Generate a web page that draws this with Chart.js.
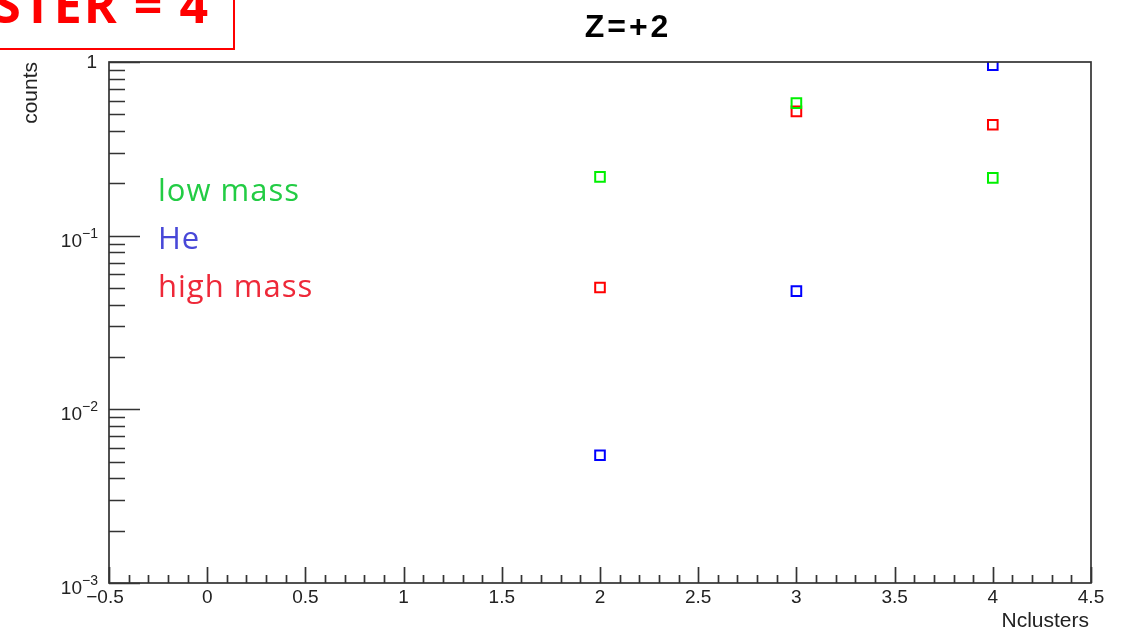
<!DOCTYPE html>
<html>
<head>
<meta charset="utf-8">
<script src="https://cdn.jsdelivr.net/npm/chart.js@4/dist/chart.umd.min.js"></script>
<style>
  html, body { margin: 0; padding: 0; background: #fff; }
  #wrap { width: 1127px; height: 634px; position: relative; }
</style>
</head>
<body>
<div id="wrap"><canvas id="c"></canvas></div>
<script>
// Cluster multiplicity for Z = +2 candidates
const nClusters = [2, 3, 4];
const lowMass  = [0.218, 0.58, 0.215];
const helium   = [0.00544, 0.0479, 0.96];
const highMass = [0.0503, 0.52, 0.435];

const seriesNames   = ['low mass', 'He', 'high mass'];
const markerColors  = ['#00f000', '#0000ff', '#ff0000'];
const labelColors   = ['#22cc44', '#4848d8', '#ee2838'];

const xMajorTicks  = [-0.5, 0, 0.5, 1, 1.5, 2, 2.5, 3, 3.5, 4, 4.5];
const xTickLabels  = ['\u22120.5', '0', '0.5', '1', '1.5', '2', '2.5', '3', '3.5', '4', '4.5'];
const yDecades     = [0.001, 0.01, 0.1, 1];
const yExponents   = ['\u22123', '\u22122', '\u22121', null];

const titleText  = 'Z=+2';
const boxText    = 'NCLUSTER = 4';
const xAxisTitle = 'Nclusters';
const yAxisTitle = 'counts';

function points(vals) {
  return nClusters.map((n, i) => ({ x: n, y: vals[i] }));
}

const frame = {
  id: 'rootFrame',
  beforeDraw(chart) {
    const ctx = chart.ctx;
    ctx.save();
    ctx.fillStyle = '#fff';
    ctx.fillRect(0, 0, chart.width, chart.height);
    ctx.restore();
  },
  afterDatasetsDraw(chart) {
    const { ctx, chartArea: a, scales: { x, y } } = chart;
    ctx.save();
    ctx.strokeStyle = '#333';
    ctx.lineWidth = 1.7;
    ctx.strokeRect(a.left, a.top, a.right - a.left, a.bottom - a.top);

    // x ticks: majors every 0.5, minors every 0.1
    ctx.beginPath();
    const x0 = xMajorTicks[0], x1 = xMajorTicks[xMajorTicks.length - 1];
    for (let k = 0; k <= Math.round((x1 - x0) * 10); k++) {
      const v = x0 + k / 10;
      const px = Math.round(x.getPixelForValue(v)) + 0.5;
      const len = (k % 5 === 0) ? 16 : 8;
      ctx.moveTo(px, a.bottom);
      ctx.lineTo(px, a.bottom - len);
    }
    // y ticks: decades long, 2..9 short
    for (let d = 0; d < yDecades.length; d++) {
      const base = yDecades[d];
      for (let m = 1; m <= 9; m++) {
        const v = base * m;
        if (v > yDecades[yDecades.length - 1] + 1e-9) break;
        const py = Math.round(y.getPixelForValue(v)) + 0.5;
        const len = m === 1 ? 31 : 16;
        ctx.moveTo(a.left, py);
        ctx.lineTo(a.left + len, py);
      }
    }
    ctx.stroke();

    // tick labels
    ctx.fillStyle = '#222';
    ctx.font = '19px "Liberation Sans"';
    ctx.textAlign = 'center';
    ctx.textBaseline = 'alphabetic';
    xMajorTicks.forEach((v, i) => {
      const px = x.getPixelForValue(v);
      const dx = i === 0 ? -4 : 0;
      ctx.fillText(xTickLabels[i], px + dx, a.bottom + 20);
    });
    yDecades.forEach((v, i) => {
      const py = y.getPixelForValue(v);
      if (yExponents[i] === null) {
        ctx.font = '19px "Liberation Sans"';
        ctx.textAlign = 'right';
        ctx.fillText('1', a.left - 12, py + 6);
      } else {
        ctx.font = '19px "Liberation Sans"';
        ctx.textAlign = 'right';
        ctx.fillText('10', a.left - 27, py + 11);
        ctx.font = '14px "Liberation Sans"';
        ctx.textAlign = 'left';
        ctx.fillText(yExponents[i], a.left - 27, py + 2);
      }
    });

    // axis titles
    ctx.font = '21px "Liberation Sans"';
    ctx.fillStyle = '#222';
    ctx.textAlign = 'right';
    ctx.fillText(xAxisTitle, a.right - 2, 627);
    ctx.save();
    ctx.translate(37, a.top);
    ctx.rotate(-Math.PI / 2);
    ctx.textAlign = 'right';
    ctx.fillText(yAxisTitle, 0, 0);
    ctx.restore();

    // legend text
    ctx.font = '31px "Open Sans"';
    ctx.letterSpacing = '1px';
    ctx.textAlign = 'left';
    seriesNames.forEach((name, i) => {
      ctx.fillStyle = labelColors[i];
      ctx.fillText(name, 158, 201 + i * 48);
    });

    // title
    ctx.font = 'bold 32px "Liberation Sans"';
    ctx.letterSpacing = '3px';
    ctx.fillStyle = '#000';
    ctx.textAlign = 'center';
    ctx.fillText(titleText, 628, 37);

    // boxed label in the corner
    ctx.letterSpacing = '2px';
    ctx.font = 'bold 50px "Open Sans"';
    ctx.fillStyle = '#ff0000';
    ctx.textAlign = 'right';
    ctx.fillText(boxText, 210, 23);
    ctx.strokeStyle = '#ff0000';
    ctx.lineWidth = 2;
    ctx.strokeRect(-10, -10, 244, 59);
    ctx.restore();
  }
};

new Chart(document.getElementById('c'), {
  type: 'scatter',
  data: {
    datasets: [
      { label: seriesNames[0], data: points(lowMass) },
      { label: seriesNames[1], data: points(helium) },
      { label: seriesNames[2], data: points(highMass) }
    ].map((ds, i) => Object.assign(ds, {
      pointStyle: 'rect',
      pointRadius: 6.8,
      pointBorderWidth: 2,
      borderColor: markerColors[i],
      pointBorderColor: markerColors[i],
      pointBackgroundColor: 'rgba(0,0,0,0)',
      backgroundColor: 'rgba(0,0,0,0)'
    }))
  },
  options: {
    responsive: true,
    maintainAspectRatio: false,
    animation: false,
    events: [],
    layout: { padding: { left: 109, right: 36, top: 62, bottom: 51 } },
    plugins: { legend: { display: false }, title: { display: false }, tooltip: { enabled: false } },
    scales: {
      x: { type: 'linear', min: xMajorTicks[0], max: xMajorTicks[xMajorTicks.length - 1], display: false },
      y: { type: 'logarithmic', min: yDecades[0], max: yDecades[yDecades.length - 1], display: false }
    }
  },
  plugins: [frame]
});
</script>
</body>
</html>
